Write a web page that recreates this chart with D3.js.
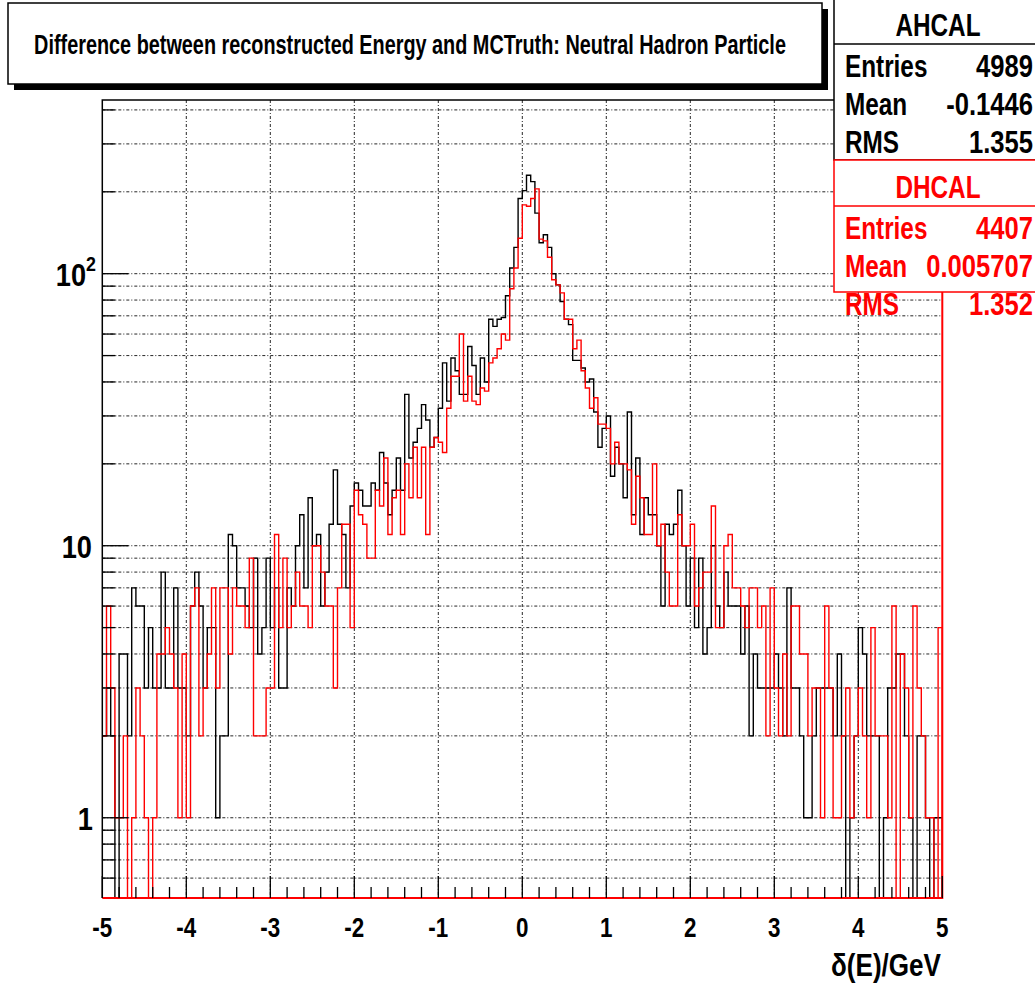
<!DOCTYPE html>
<html><head><meta charset="utf-8">
<script src="https://cdn.jsdelivr.net/npm/d3@7"></script>
<style>
body{margin:0;background:#fff}
text{font-family:"Liberation Sans",Arial,sans-serif;font-weight:bold}
</style>
</head><body>
<svg id="c" width="1035" height="985"></svg>
<script>
// Histogram binning: 200 bins from -5 to 5 GeV
const binLow = -5, binHigh = 5, nBins = 200;

// AHCAL: counts per bin (black)
const ahcal = [
  2,3,2,0,4,4,2,7,6,6, 3,5,3,3,8,3,3,7,3,3, 2,6,8,6,3,5,5,1,2,2, 11,10,7,7,6,5,9,4,5,9,
  5,7,3,3,7,6,10,13,7,15, 10,11,6,8,12,19,12,11,7,14, 17,16,14,14,17,16,22,17,13,16, 21,16,36,21,24,27,33,29,23,25,
  32,47,34,49,44,36,36,54,46,36, 49,40,68,64,68,69,83,105,125,189,
  202,230,218,167,130,139,125,100,91,79, 68,65,48,48,45,40,41,31,23,27, 30,18,23,20,15,31,13,21,11,15,
  13,13,10,6,12,11,12,16,10,6, 9,5,9,4,5,10,6,5,8,6, 6,6,4,6,2,4,3,3,3,3, 4,3,2,7,3,3,2,1,1,2,
  3,3,3,3,2,4,2,0,1,2, 5,4,2,2,2,0,1,3,3,4, 4,2,1,0,2,2,1,0,1,1
];

// DHCAL: counts per bin (red)
const dhcal = [
  2,6,3,1,1,2,0,1,3,2, 1,0,1,4,4,5,4,3,1,4, 1,6,7,2,3,4,7,3,7,7, 4,7,6,6,5,9,2,2,2,3,
  3,11,5,9,5,6,8,6,6,5, 10,10,8,6,6,3,7,12,12,5, 16,13,12,9,9,16,14,21,11,15, 16,11,20,15,23,15,23,11,23,25,
  24,22,32,42,42,60,34,42,34,33, 38,37,47,49,53,60,57,88,105,135,
  179,177,189,205,134,132,115,95,91,85, 68,68,53,57,44,38,32,35,28,28, 27,20,24,20,20,19,12,18,15,11,
  11,20,10,12,8,6,6,13,10,10, 12,6,7,8,8,14,5,5,10,11, 7,7,6,5,7,7,5,6,2,7, 3,2,4,2,6,6,4,4,2,3,
  3,1,6,3,1,1,2,3,1,2, 3,2,1,5,2,2,2,1,6,0, 4,3,1,6,3,2,1,1,0,5
];

const xTickValues = [-5,-4,-3,-2,-1,0,1,2,3,4,5];
const titleText = "Difference between reconstructed Energy and MCTruth: Neutral Hadron Particle";
const xAxisTitle = "\u03b4(E)/GeV";
const statNames = ["Entries","Mean","RMS"];
const ahcalStats = ["4989","-0.1446","1.355"];
const dhcalStats = ["4407","0.005707","1.352"];

const svg = d3.select("#c");
const L = 102.3, R = 942.3, T = 100, B = 898;
const x = d3.scaleLinear().domain([binLow, binHigh]).range([L, R]);
const y = d3.scaleLog().domain([0.507, 435]).range([B, T]);
const bw = (binHigh - binLow) / nBins;

// narrow the glyphs horizontally around each text's anchor x
function squeeze(sel, s){
  sel.each(function(){
    const t = d3.select(this), ax = +t.attr("x");
    t.attr("transform", `translate(${ax},0) scale(${s},1) translate(${-ax},0)`);
  });
}
function fitWidth(sel, w){
  sel.each(function(){
    squeeze(d3.select(this), w / this.getComputedTextLength());
  });
}

svg.append("rect").attr("width",1035).attr("height",985).attr("fill","#fff");

svg.append("clipPath").attr("id","plot").append("rect")
  .attr("x",L).attr("y",T).attr("width",R-L).attr("height",B-T);

// grid
const grid = svg.append("g").attr("stroke","#000").attr("stroke-width",1)
  .attr("stroke-dasharray","3,2,1,2").attr("opacity",0.85);
xTickValues.filter(v => v > binLow && v < binHigh).forEach(v => {
  grid.append("line").attr("x1",x(v)).attr("x2",x(v)).attr("y1",T).attr("y2",B);
});
const yMinor = [];
[0.1,1,10,100].forEach(d => { for (let k=1;k<=9;k++){ const v=k*d; if (v>=y.domain()[0] && v<=y.domain()[1]) yMinor.push(v);} });
yMinor.forEach(v => {
  grid.append("line").attr("x1",L).attr("x2",R).attr("y1",y(v)).attr("y2",y(v));
});

// histogram outlines
function histPoints(counts){
  const pts = [{e:binLow, v:0}];
  counts.forEach((c,i) => pts.push({e: binLow + i*bw, v:c}));
  pts.push({e: binHigh, v: counts[counts.length-1]});
  pts.push({e: binHigh, v: 0});
  return pts;
}
const step = d3.line()
  .x(d => x(d.e))
  .y(d => d.v > 0 ? y(d.v) : B + 2)
  .curve(d3.curveStepAfter);

const hg = svg.append("g").attr("clip-path","url(#plot)").attr("fill","none").attr("stroke-width",1.4);
hg.append("path").attr("d", step(histPoints(ahcal))).attr("stroke","#000");
hg.append("path").attr("d", step(histPoints(dhcal))).attr("stroke","#ff0000");

// frame
svg.append("path").attr("d",`M${L},${B}V${T}H${R}`).attr("fill","none").attr("stroke","#000").attr("stroke-width",1.5);
svg.append("path").attr("d",`M${L},${B}H${R}V${T}`).attr("fill","none").attr("stroke","#ff0000").attr("stroke-width",2);

// axis ticks
const ax = svg.append("g").attr("stroke","#000").attr("stroke-width",1.3);
d3.range(binLow, binHigh + 1e-9, 0.2).forEach(v => {
  const major = Math.abs(v - Math.round(v)) < 1e-6;
  ax.append("line").attr("x1",x(v)).attr("x2",x(v)).attr("y1",B).attr("y2",B - (major ? 22 : 11));
});
yMinor.forEach(v => {
  const major = Math.abs(Math.log10(v) - Math.round(Math.log10(v))) < 1e-6;
  ax.append("line").attr("x1",L).attr("x2",L + (major ? 26 : 13)).attr("y1",y(v)).attr("y2",y(v));
});

// x tick labels
const xl = svg.append("g").selectAll("text").data(xTickValues).join("text")
  .attr("x", d => x(d)).attr("y", 937).attr("text-anchor","middle")
  .attr("font-size",28).text(d => d);
squeeze(xl, 0.8);

// y tick labels
const yl = svg.append("g").attr("font-size",32).attr("text-anchor","end");
squeeze(yl.append("text").attr("x",93).attr("y",y(1)+12).text("1"), 0.85);
squeeze(yl.append("text").attr("x",92).attr("y",y(10)+12).text("10"), 0.85);
const t2 = yl.append("text").attr("x",96).attr("y",y(100)+12);
t2.append("tspan").text("10");
t2.append("tspan").attr("dy",-15).attr("font-size",21).text("2");
squeeze(t2, 0.85);

// x axis title
fitWidth(svg.append("text").attr("x",941).attr("y",976).attr("text-anchor","end")
  .attr("font-size",32).text(xAxisTitle), 110);

// title box with shadow
svg.append("rect").attr("x",14).attr("y",9).attr("width",814).attr("height",81).attr("fill","#000");
svg.append("rect").attr("x",8).attr("y",3).attr("width",814).attr("height",81)
  .attr("fill","#fff").attr("stroke","#000").attr("stroke-width",1.5);
fitWidth(svg.append("text").attr("x",410).attr("y",54).attr("text-anchor","middle")
  .attr("font-size",27).attr("font-weight","normal").text(titleText), 752);

// stats boxes
function statsBox(top, h, name, values, color){
  const g = svg.append("g");
  g.append("rect").attr("x",834).attr("y",top).attr("width",210).attr("height",h)
    .attr("fill","#fff").attr("stroke",color).attr("stroke-width",1.5);
  g.append("line").attr("x1",834).attr("x2",1040).attr("y1",top+46).attr("y2",top+46)
    .attr("stroke",color).attr("stroke-width",1.5);
  squeeze(g.append("text").attr("x",938).attr("y",top+38).attr("text-anchor","middle")
    .attr("font-size",32).attr("fill",color).text(name), 0.76);
  statNames.forEach((s,i) => {
    const yy = top + 79 + i*38;
    squeeze(g.append("text").attr("x",845).attr("y",yy).attr("font-size",32).attr("fill",color).text(s), 0.76);
    squeeze(g.append("text").attr("x",1033).attr("y",yy).attr("text-anchor","end")
      .attr("font-size",32).attr("fill",color).text(values[i]), 0.8);
  });
}
statsBox(-2, 162, "AHCAL", ahcalStats, "#000");
statsBox(160, 132, "DHCAL", dhcalStats, "#ff0000");
</script>
</body></html>
